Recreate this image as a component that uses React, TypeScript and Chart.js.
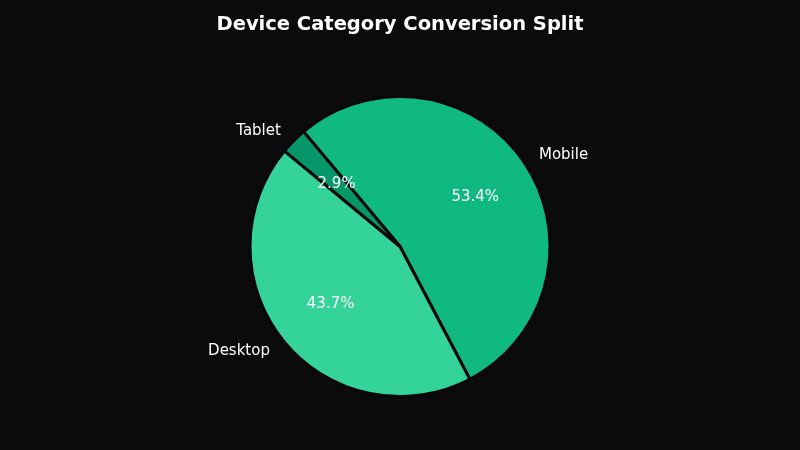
import React, { useEffect, useRef } from "react";
import { Chart, registerables } from "chart.js";

Chart.register(...registerables);

const categories = ["Mobile", "Desktop", "Tablet"];
const shares = [53.4, 43.7, 2.9];
const colors = ["#10b981", "#34d399", "#059669"];
const titleText = "Device Category Conversion Split";
const BG = "#0b0b0d";
const FONT = "'DejaVu Sans', sans-serif";

const labelPlugin = {
  id: "pieLabels",
  beforeDraw(chart: any) {
    const ctx = chart.ctx;
    ctx.save();
    ctx.fillStyle = BG;
    ctx.fillRect(0, 0, chart.width, chart.height);
    ctx.restore();
  },
  afterDatasetsDraw(chart: any) {
    const ctx = chart.ctx;
    const meta = chart.getDatasetMeta(0);
    const total = shares.reduce((a, b) => a + b, 0);
    ctx.save();
    meta.data.forEach((arc: any, i: number) => {
      const { x, y, startAngle, endAngle } = arc.getProps(
        ["x", "y", "startAngle", "endAngle"],
        true
      );
      const mid = (startAngle + endAngle) / 2;
      const r = 150;
      const cx = Math.cos(mid);
      const cy = Math.sin(mid);
      ctx.font = `15px ${FONT}`;
      ctx.fillStyle = "#ffffff";
      ctx.textBaseline = "middle";
      const lx = x + cx * r * 1.1 + (cx >= 0 ? 2 : -2);
      const ly = y + cy * r * 1.1 + 1;
      ctx.textAlign = cx >= 0 ? "left" : "right";
      ctx.fillText(categories[i], lx, ly);
      const px = x + cx * r * 0.6 + 0.5;
      const py = y + cy * r * 0.6 + 1;
      ctx.textAlign = "center";
      ctx.fillText(((shares[i] / total) * 100).toFixed(1) + "%", px, py);
    });
    ctx.font = `bold 19.5px ${FONT}`;
    ctx.fillStyle = "#ffffff";
    ctx.textAlign = "center";
    ctx.textBaseline = "middle";
    ctx.fillText(titleText, chart.width / 2, 24.5);
    ctx.restore();
  },
};

export default function App() {
  const ref = useRef<HTMLCanvasElement | null>(null);
  useEffect(() => {
    document.body.style.margin = "0";
    document.body.style.background = BG;
    const chart = new Chart(ref.current as HTMLCanvasElement, {
      type: "pie",
      data: {
        labels: categories,
        datasets: [
          {
            data: shares,
            backgroundColor: colors,
            borderColor: "#08080a",
            borderWidth: 3,
          },
        ],
      },
      options: {
        responsive: false,
        animation: false,
        rotation: -40,
        layout: { padding: { top: 95, bottom: 52, left: 0, right: 0 } },
        plugins: {
          legend: { display: false },
          title: { display: false },
          tooltip: { enabled: false },
        },
      },
      plugins: [labelPlugin],
    });
    return () => chart.destroy();
  }, []);
  return (
    <div style={{ width: 800, height: 450, background: BG }}>
      <canvas ref={ref} width={800} height={450} />
    </div>
  );
}
